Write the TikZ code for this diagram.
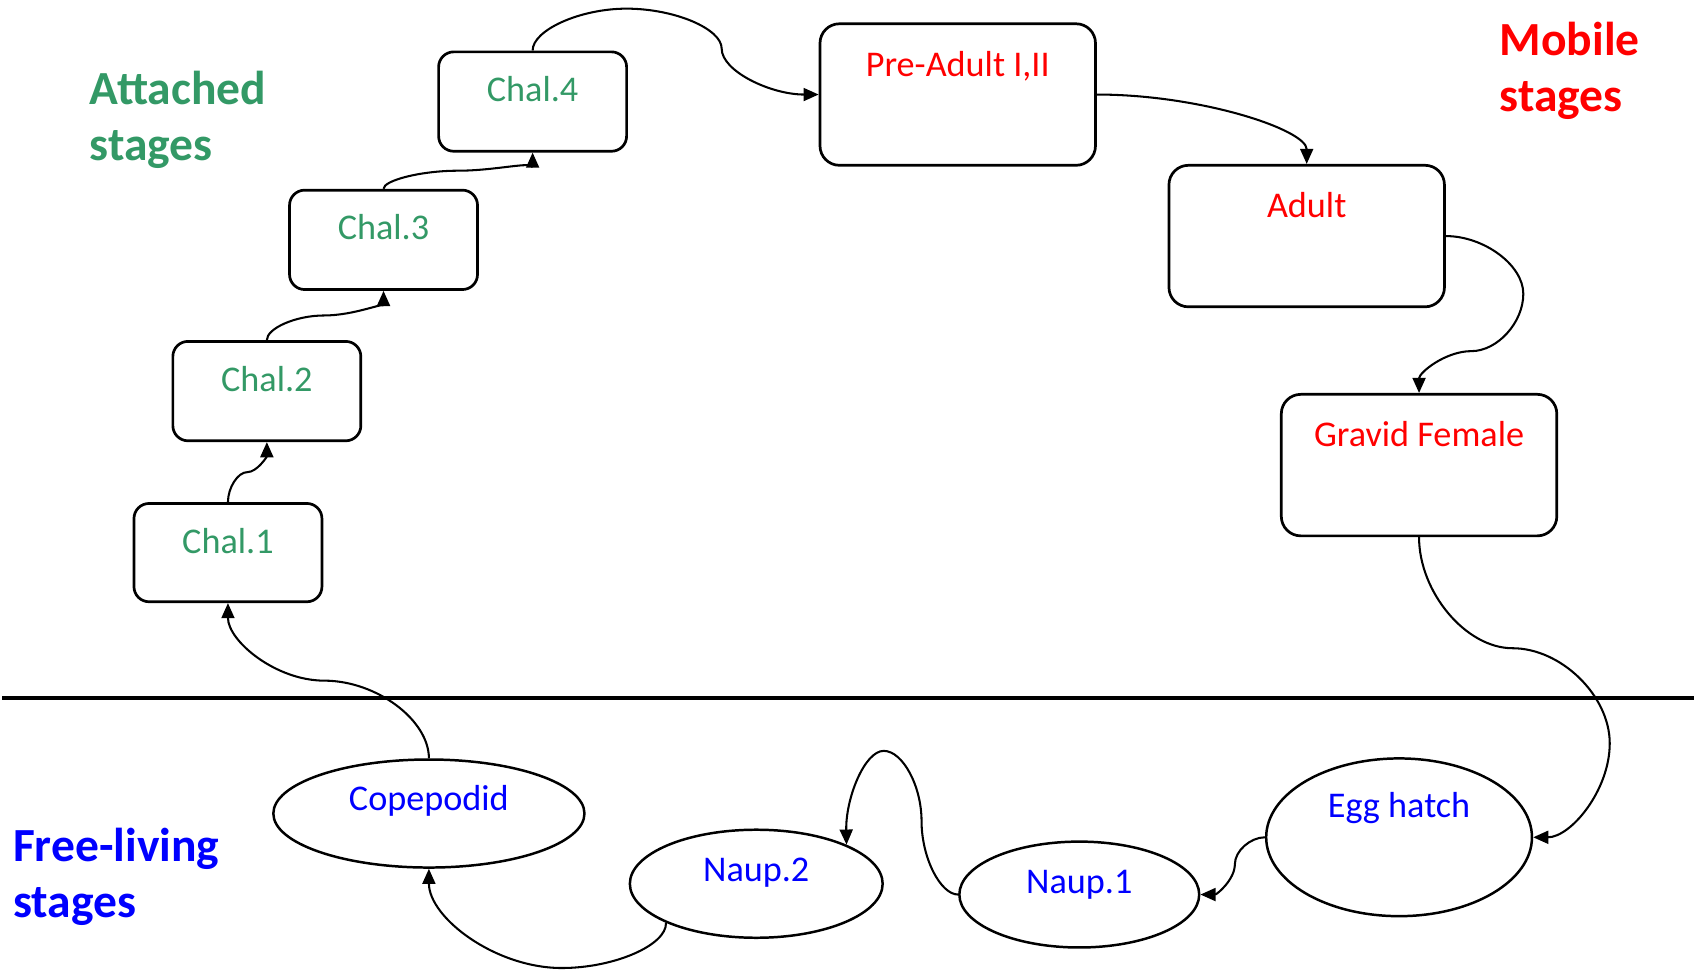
\documentclass[tikz,border=0pt]{standalone}
\usepackage{fontspec}
\setmainfont{Carlito}
\usetikzlibrary{shapes.geometric,arrows.meta}
\definecolor{attgreen}{RGB}{51,153,102}
\definecolor{mobred}{RGB}{255,0,0}
\definecolor{freeblue}{RGB}{0,0,255}
\begin{document}
\begin{tikzpicture}[x=1pt,y=-1pt,
  stagebox/.style={draw, line width=2.5pt, rounded corners=14pt, minimum width=174pt, minimum height=92pt, inner sep=0pt},
  bigbox/.style={draw, line width=2.5pt, rounded corners=18pt, minimum width=255pt, minimum height=131pt, inner sep=0pt},
  oval/.style={draw, ellipse, line width=2.3pt, inner sep=0pt},
  lbl/.style={font=\fontsize{33.5}{40}\selectfont, anchor=base, inner sep=0pt},
  ttl/.style={font=\fontsize{44}{53}\selectfont\bfseries, anchor=base west, inner sep=0pt},
  conn/.style={line width=1.9pt, -{Triangle[length=14pt,width=12pt]}},
]
\useasboundingbox (0,0) rectangle (1568,898);

% titles
\node[ttl, text=attgreen] (att1) at (83,97) {Attached};
\node[ttl, text=attgreen] (att2) at (83,149) {stages};
\node[ttl, text=mobred] (mob1) at (1388,51) {Mobile};
\node[ttl, text=mobred] (mob2) at (1388,103) {stages};
\node[ttl, text=freeblue] (fre1) at (12,797) {Free-living};
\node[ttl, text=freeblue] (fre2) at (12,849) {stages};

% divider
\coordinate (hlA) at (2,646);
\coordinate (hlB) at (1568,646);
\draw[line width=3.5pt] (hlA) -- (hlB);

% attached stages
\node[stagebox] (ch4) at (493,94) {};
\node[stagebox] (ch3) at (355,222) {};
\node[stagebox] (ch2) at (247,362) {};
\node[stagebox, minimum height=91pt] (ch1) at (211,511.5) {};
\node[lbl, text=attgreen] (ch4t) at (493,94) {Chal.4};
\node[lbl, text=attgreen] (ch3t) at (355,222) {Chal.3};
\node[lbl, text=attgreen] (ch2t) at (247,362) {Chal.2};
\node[lbl, text=attgreen] (ch1t) at (211,512) {Chal.1};

% mobile stages
\node[bigbox] (pre) at (886.5,87.5) {};
\node[bigbox] (adu) at (1209.5,218.5) {};
\node[bigbox] (grv) at (1313.5,430.5) {};
\node[lbl, text=mobred] (pret) at (886.5,71) {Pre-Adult I,II};
\node[lbl, text=mobred] (adut) at (1209.5,201) {Adult};
\node[lbl, text=mobred] (grvt) at (1313.5,413) {Gravid Female};

% free-living stages
\node[oval, minimum width=288pt, minimum height=100pt] (cop) at (397,753) {};
\node[oval, minimum width=234pt, minimum height=100pt] (np2) at (700,818) {};
\node[oval, minimum width=222pt, minimum height=98pt] (np1) at (999,828) {};
\node[oval, minimum width=246pt, minimum height=146pt] (egg) at (1295,775) {};
\node[lbl, text=freeblue] (copt) at (397,750.5) {Copepodid};
\node[lbl, text=freeblue] (np2t) at (700,816) {Naup.2};
\node[lbl, text=freeblue] (np1t) at (999,827) {Naup.1};
\node[lbl, text=freeblue] (eggt) at (1295,757) {Egg hatch};

% connectors
\draw[conn] (cop.north) .. controls (397,666.5) and (348.5,630) .. (300,630)
                        .. controls (255.5,630) and (211,593.5) .. (ch1.south);
\draw[conn] (ch1.north) .. controls (211,451.5) and (220,437) .. (229,437)
                        .. controls (238,437) and (247,422.5) .. (ch2.south);
\draw[conn] (ch2.north) .. controls (247,304) and (273.5,292) .. (300,292)
                        .. controls (327.5,292) and (355,280) .. (ch3.south);
\draw[conn] (ch3.north) .. controls (355,167) and (389.5,158) .. (424,158)
                        .. controls (458.5,158) and (493,149) .. (ch4.south);
\draw[conn] (ch4.north) .. controls (493,28) and (536.5,8) .. (580,8)
                        .. controls (624,8) and (668,26.5) .. (668,45)
                        .. controls (668,66) and (713.5,87.5) .. (pre.west);
\draw[conn] (pre.east) .. controls (1111.75,87.5) and (1209.5,120.25) .. (adu.north);
\draw[conn] (adu.east) .. controls (1373.5,218.5) and (1410,245.25) .. (1410,272)
                       .. controls (1410,298.5) and (1386,325) .. (1362,325)
                       .. controls (1337.75,325) and (1313.5,345) .. (grv.north);
\draw[conn] (grv.south) .. controls (1313.5,548) and (1356.75,600) .. (1400,600)
                        .. controls (1445,600) and (1490,644) .. (1490,688)
                        .. controls (1490,731.5) and (1454,775) .. (egg.east);
\draw[conn] (egg.west) .. controls (1157.5,775) and (1143,787.5) .. (1143,800)
                       .. controls (1143,814) and (1126.5,828) .. (np1.east);
\draw[conn] (np1.west) .. controls (870.5,828) and (853,794) .. (853,760)
                       .. controls (853,727.5) and (835.5,695) .. (818,695)
                       .. controls (800.35,695) and (782.7,738.8) .. (np2.north east);
\draw[conn] (np2.south west) .. controls (617.3,874.7) and (568.65,896) .. (520,896)
                             .. controls (458.5,896) and (397,849.5) .. (cop.south);
\end{tikzpicture}
\end{document}
